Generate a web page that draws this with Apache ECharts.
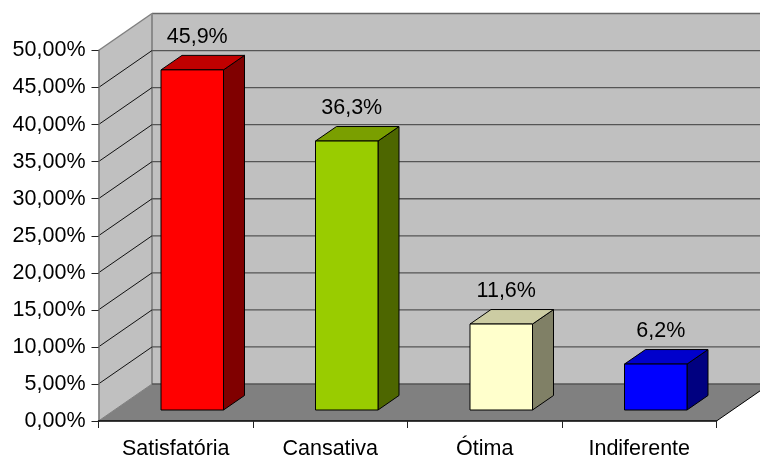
<!DOCTYPE html>
<html><head><meta charset="utf-8">
<style>html,body{margin:0;padding:0;background:#fff}#c{width:760px;height:455px}</style>
<script src="https://cdn.jsdelivr.net/npm/echarts@6/dist/echarts.min.js"></script>
</head><body><div id="c"></div>
<script>
const categories = ['Satisfatória','Cansativa','Ótima','Indiferente'];
const values = [45.9,36.3,11.6,6.2];
const valueLabels = ['45,9%','36,3%','11,6%','6,2%'];
const ticks = [0,5,10,15,20,25,30,35,40,45,50];
const frontColors = ['#FF0000','#99CC00','#FFFFCC','#0000FF'];
const topColors = ['#C00000','#7A9F00','#CCCCA3','#0000CC'];
const sideColors = ['#800000','#4D6600','#808066','#000080'];

const DX=53.5, DY=37;
const chart = echarts.init(document.getElementById('c'),null,{renderer:'canvas'});
const font='"Liberation Sans", Arial, sans-serif';
const poly=(pts,fill,stroke,w)=>({type:'polygon',shape:{points:pts},style:{fill:fill,stroke:stroke||null,lineWidth:w||1}});
const line=(a,b,c,w)=>({type:'line',shape:{x1:a[0],y1:a[1],x2:b[0],y2:b[1]},style:{stroke:c,lineWidth:w||1}});

function renderWalls(params,api){
  const a=api.coord([0,0]), t=api.coord([0,50]);
  const cs=params.coordSys, L=cs.x, R=cs.x+cs.width, B=a[1], T=t[1];
  return {type:'group',children:[
    poly([[L+DX,T-DY],[R+DX,T-DY],[R+DX,B-DY],[L+DX,B-DY]],'#C0C0C0'),
    poly([[L,T],[L+DX,T-DY],[L+DX,B-DY],[L,B]],'#C0C0C0'),
    poly([[L,B],[L+DX,B-DY],[R+DX,B-DY],[R,B]],'#808080'),
    line([L,B],[L+DX,B-DY],'#808080',1),
    line([L,T],[L+DX,T-DY],'#808080',1.5),
    line([L+DX,T-DY],[R+DX,T-DY],'#666666',1.5),
    line([L+DX,T-DY],[L+DX,B-DY],'#8a8a8a',2),
    line([R,B],[R+DX,B-DY],'#000',1)
  ]};
}
function renderGrid(params,api){
  const p=api.coord([0,api.value(0)]);
  const cs=params.coordSys, L=cs.x, R=cs.x+cs.width, y=p[1];
  if(api.value(0)===50) return {type:'group',children:[]};
  const ch=[];
  if(api.value(0)!==0){
    ch.push(line([L,y],[L+DX,y-DY],'#111',1));
  }
  ch.push(line([L+DX,y-DY],[R+DX,y-DY],'#555',1.3));
  return {type:'group',children:ch};
}
function renderBar(params,api){
  const i=api.value(0), v=api.value(1);
  const c=api.coord([i,v]), z=api.coord([i,0]);
  const h=z[1]-c[1], x0=c[0]-14.75, x1=x0+62.5, yb=z[1]-11, yt=yb-h, dx=21, dy=14.5;
  const idx=params.dataIndex;
  return {type:'group',children:[
    poly([[x1,yt],[x1+dx,yt-dy],[x1+dx,yb-dy],[x1,yb]],sideColors[idx],'#000',1),
    poly([[x0,yt],[x0+dx,yt-dy],[x1+dx,yt-dy],[x1,yt]],topColors[idx],'#000',1),
    poly([[x0,yt],[x1,yt],[x1,yb],[x0,yb]],frontColors[idx],'#000',1),
    {type:'text',style:{text:valueLabels[idx],x:(x0+x1)/2+5,y:yt-dy-18,align:'center',verticalAlign:'middle',
      font:'21.5px '+font,fill:'#000'}}
  ]};
}
chart.setOption({
  animation:false,
  backgroundColor:'#fff',
  grid:{left:98.5,right:43.5,top:50.5,bottom:34,outerBoundsMode:'none'},
  xAxis:{type:'category',data:categories,z:5,
    axisLine:{lineStyle:{color:'#000',width:1.5}},
    axisTick:{show:true,length:7,alignWithLabel:false,lineStyle:{color:'#222'}},
    axisLabel:{color:'#000',fontFamily:font,fontSize:21.5,margin:17},splitLine:{show:false}},
  yAxis:{type:'value',min:0,max:50,interval:5,z:5,
    axisLine:{show:true,lineStyle:{color:'#777',width:1.5}},
    axisTick:{show:true,length:7,lineStyle:{color:'#222'}},
    axisLabel:{color:'#000',fontFamily:font,fontSize:21.5,margin:13,
      formatter:v=>v.toFixed(2).replace('.',',')+'%'},
    splitLine:{show:false}},
  series:[
    {type:'custom',z:1,silent:true,clip:false,data:[[0]],renderItem:renderWalls,encode:{y:0}},
    {type:'custom',z:2,silent:true,clip:false,data:ticks.map(t=>[t]),renderItem:renderGrid,encode:{y:0}},
    {type:'custom',z:3,silent:true,clip:false,data:values.map((v,i)=>[i,v]),renderItem:renderBar,encode:{x:0,y:1}}
  ]
});
</script></body></html>
